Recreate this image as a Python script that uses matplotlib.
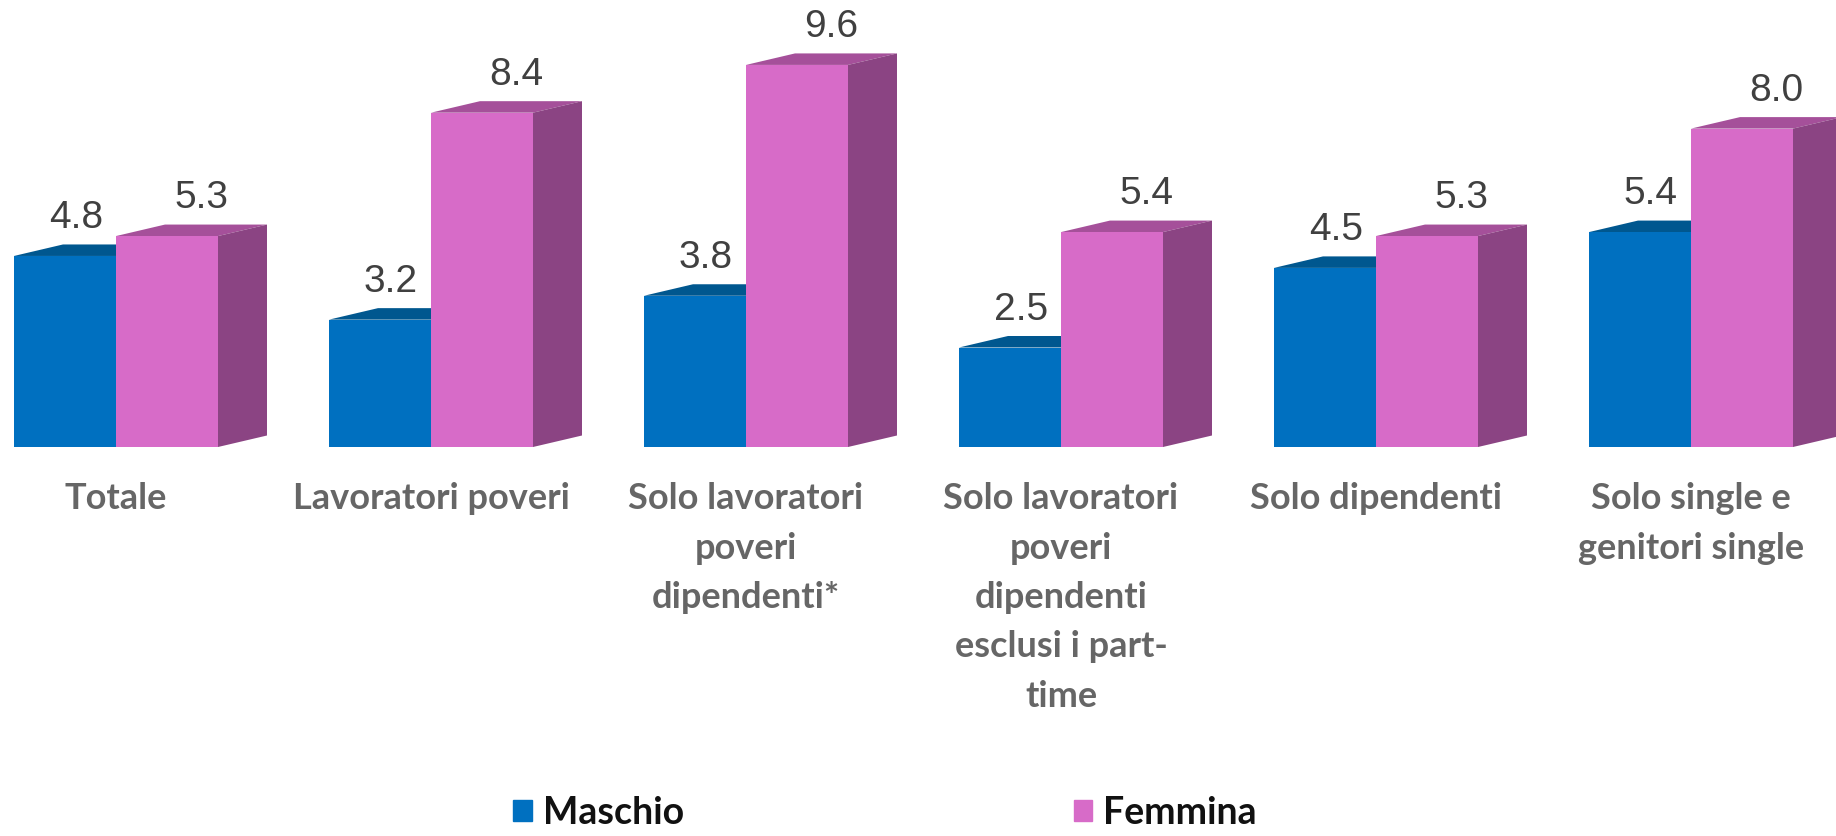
import matplotlib
matplotlib.use("Agg")
import matplotlib.pyplot as plt
from matplotlib.patches import Polygon, Patch
import numpy as np

categories = ["Totale", "Lavoratori poveri", "Solo lavoratori\npoveri\ndipendenti*",
              "Solo lavoratori\npoveri\ndipendenti\nesclusi i part-\ntime",
              "Solo dipendenti", "Solo single e\ngenitori single"]
maschio = [4.8, 3.2, 3.8, 2.5, 4.5, 5.4]
femmina = [5.3, 8.4, 9.6, 5.4, 5.3, 8.0]

W, H = 1836, 836
BASE = 447          # baseline, px from top
UNIT = 39.8         # px per value unit
STEP = 315          # px between groups
X0 = 116            # px of first group's centre
BAR = 102 / STEP
DX = 49 / STEP
DY = 11.5 / UNIT

BLUE, BLUE_TOP = "#0070C0", "#00578F"
PINK, PINK_TOP, PINK_SIDE = "#D76BC8", "#A5509A", "#8B4483"

fig = plt.figure(figsize=(W / 100, H / 100), dpi=100, facecolor="white")
ax = fig.add_axes([0, 1 - BASE / H, 1, BASE / H])
ax.set_xlim(-X0 / STEP, (W - X0) / STEP)
ax.set_ylim(0, BASE / UNIT)
for s in ax.spines.values():
    s.set_visible(False)
ax.set_yticks([])

x = np.arange(len(categories))
ax.bar(x - BAR / 2, maschio, BAR, color=BLUE, zorder=2)
ax.bar(x + BAR / 2, femmina, BAR, color=PINK, zorder=2)

for xi, m, f in zip(x, maschio, femmina):
    ax.add_patch(Polygon([(xi - BAR, m), (xi - BAR + DX, m + DY), (xi, m + DY), (xi, m)],
                         closed=True, fc=BLUE_TOP, ec="none", zorder=1))
    r = xi + BAR
    ax.add_patch(Polygon([(xi, f), (xi + DX, f + DY), (r + DX, f + DY), (r, f)],
                         closed=True, fc=PINK_TOP, ec="none", zorder=1))
    ax.add_patch(Polygon([(r, 0), (r + DX, DY), (r + DX, f + DY), (r, f)],
                         closed=True, fc=PINK_SIDE, ec="none", zorder=1))
    ax.text(xi - BAR / 2 + 0.034, m + 0.95, f"{m:.1f}", ha="center", va="center",
            fontsize=28, color="#404040", family="Liberation Sans", clip_on=False)
    ax.text(xi + BAR / 2 + 0.108, f + 0.95, f"{f:.1f}", ha="center", va="center",
            fontsize=28, color="#404040", family="Liberation Sans", clip_on=False)

ax.set_xticks(x, categories)
ax.tick_params(axis="x", length=0, pad=25.5)
for lab in ax.get_xticklabels():
    lab.set_fontsize(26)
    lab.set_family("Lato")
    lab.set_fontweight("bold")
    lab.set_color("#666666")
    lab.set_linespacing(1.605)
    lab.set_verticalalignment("top")

handles = [Patch(color=BLUE, label="Maschio"), Patch(color=PINK, label="Femmina")]
fig.legend(handles=handles, ncol=2, loc="center", bbox_to_anchor=(0.482, 1 - 813 / H),
           bbox_transform=fig.transFigure, frameon=False, handlelength=0.5, handleheight=0.5,
           handletextpad=0.28, columnspacing=10.4,
           prop={"family": "Lato", "weight": "bold", "size": 27}, labelcolor="#111111")

fig.savefig("out.png", dpi=100, facecolor="white")
